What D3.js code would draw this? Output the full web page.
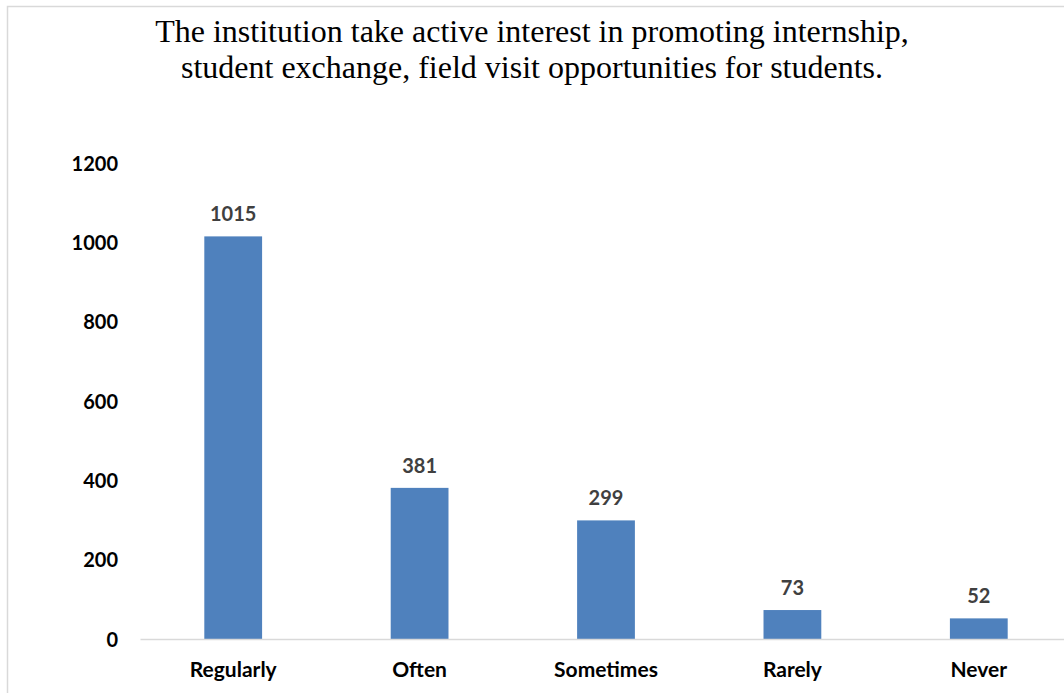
<!DOCTYPE html>
<html><head><meta charset="utf-8">
<script src="https://cdn.jsdelivr.net/npm/d3@7"></script>
<style>body{margin:0;background:#fff}svg{display:block}</style>
</head><body>
<script>
const categories = ["Regularly","Often","Sometimes","Rarely","Never"];
const values = [1015,381,299,73,52];
const yTicks = [0,200,400,600,800,1000,1200];
const titleLines = ["The institution take active interest in promoting internship,","student exchange, field visit opportunities for students."];

const W=1064,H=693;
const svg=d3.select("body").append("svg").attr("width",W).attr("height",H);
svg.append("rect").attr("x",7.5).attr("y",6.5).attr("width",1100).attr("height",800)
  .attr("fill","#fff").attr("stroke","#d9d9d9").attr("stroke-width",1.5);

const x=d3.scaleBand().domain(categories).range([140,1072]).paddingInner(0.69).paddingOuter(0.345);
const y=d3.scaleLinear().domain([0,1200]).range([639,163]);

svg.append("g").selectAll("text").data(titleLines).join("text")
  .attr("x",532).attr("y",(d,i)=>42+i*36).attr("text-anchor","middle")
  .attr("font-family","'Liberation Serif','Times New Roman',serif").attr("font-size",32).attr("fill","#000")
  .text(d=>d);

const yAxis=svg.append("g").attr("transform","translate(118,0)")
  .call(d3.axisLeft(y).tickValues(yTicks).tickFormat(d3.format("d")).tickSize(0).tickPadding(0));
yAxis.select(".domain").remove();
yAxis.selectAll("text").attr("font-family","Lato,'Open Sans',sans-serif").attr("font-weight","bold").attr("font-size",20).attr("fill","#000").attr("dy","0.35em");

svg.selectAll("rect.bar").data(values).join("rect").attr("class","bar")
  .attr("x",(d,i)=>x(categories[i])).attr("width",x.bandwidth())
  .attr("y",d=>y(d)).attr("height",d=>y(0)-y(d)).attr("fill","#4f81bd");

const xAxis=svg.append("g").attr("transform","translate(0,639)")
  .call(d3.axisBottom(x).tickSize(0).tickPadding(23));
xAxis.select(".domain").attr("stroke","#d9d9d9").attr("stroke-width",1.5);
xAxis.selectAll("text").attr("font-family","Lato,'Open Sans',sans-serif").attr("font-weight","bold").attr("font-size",21).attr("fill","#000").attr("dy","0.71em");

svg.selectAll("text.val").data(values).join("text").attr("class","val")
  .attr("x",(d,i)=>x(categories[i])+x.bandwidth()/2).attr("y",d=>y(d)-15)
  .attr("text-anchor","middle").attr("font-family","Lato,'Open Sans',sans-serif").attr("font-weight","bold")
  .attr("font-size",20).attr("fill","#404040").text(d=>d);
</script>
</body></html>
